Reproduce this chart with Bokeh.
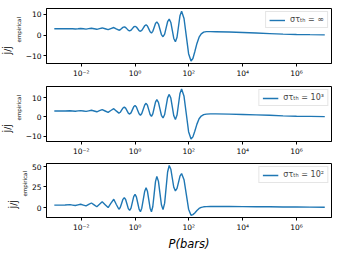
from bokeh.plotting import figure
from bokeh.models import (Range1d, FixedTicker, CustomJSTickFormatter, Title,
                          Legend, LegendItem)
from bokeh.layouts import column
from bokeh.embed import file_html
from bokeh.resources import INLINE

# ---- data (log10 of P, and the three curves) ----
logP = [-3.0, -2.8, -2.6, -2.42, -2.32, -2.22, -2.12, -2.02, -1.92, -1.82,
        -1.72, -1.62, -1.52, -1.42, -1.32, -1.22, -1.11, -1.0, -0.9, -0.79,
        -0.7, -0.6, -0.55, -0.5, -0.45, -0.4, -0.35, -0.3, -0.25, -0.2,
        -0.15, -0.1, -0.05, 0.0, 0.05, 0.1, 0.15, 0.2, 0.25, 0.305,
        0.36, 0.41, 0.46, 0.51, 0.56, 0.61, 0.66, 0.71, 0.76, 0.81,
        0.87, 0.925, 0.98, 1.04, 1.10, 1.155, 1.21, 1.27, 1.33, 1.385,
        1.44, 1.5, 1.56, 1.615, 1.67, 1.73, 1.82, 1.905, 1.99, 2.08,
        2.15, 2.22, 2.3, 2.38, 2.46, 2.55, 2.65, 2.8, 3.0, 3.5,
        4.0, 4.5, 5.0, 5.5, 6.0, 6.5, 7.05]

y_inf = [3.0, 3.0, 3.0, 3.08, 3.0, 2.92, 3.03, 3.15, 3.0, 2.85,
         3.05, 3.25, 3.0, 2.75, 3.08, 3.4, 3.0, 2.6, 3.1, 3.6,
         2.95, 2.3, 2.53, 3.1, 3.67, 3.9, 3.62, 2.95, 2.28, 2.0,
         2.32, 3.1, 3.88, 4.2, 3.85, 3.0, 2.15, 1.8, 2.25, 3.35,
         4.45, 4.9, 4.33, 2.95, 1.57, 1.0, 1.78, 3.65, 5.52, 6.3,
         5.26, 2.75, 0.24, -0.8, 0.43, 3.4, 6.37, 7.6, 6.02, 2.2,
         -1.62, -3.2, -1.06, 4.1, 9.26, 11.4, 7.91, -0.5, -8.91, -12.4,
         -11.2, -8.0, -4.0, -1.0, 0.6, 1.4, 1.65, 1.65, 1.6, 1.45,
         1.2, 0.95, 0.7, 0.45, 0.3, 0.2, 0.1]

y_1e3 = [3.0, 3.0, 3.0, 3.1, 3.0, 2.9, 3.05, 3.2, 3.0, 2.8,
         3.1, 3.4, 3.0, 2.6, 3.15, 3.7, 3.0, 2.3, 3.25, 4.2,
         3.05, 1.9, 2.35, 3.45, 4.55, 5.0, 4.47, 3.2, 1.93, 1.4,
         2.04, 3.6, 5.16, 5.8, 5.07, 3.3, 1.53, 0.8, 1.71, 3.9,
         6.09, 7.0, 6.0, 3.6, 1.2, 0.2, 1.47, 4.55, 7.63, 8.9,
         7.51, 4.15, 0.79, -0.6, 1.19, 5.5, 9.81, 11.6, 9.7, 5.1,
         0.5, -1.4, 0.91, 6.5, 12.09, 14.4, 10.61, 1.45, -7.71, -11.5,
         -10.4, -7.5, -3.8, -1.0, 0.4, 1.1, 1.4, 1.5, 1.5, 1.4,
         1.2, 1.0, 0.8, 0.5, 0.3, 0.2, 0.1]

y_1e2 = [3.0, 3.0, 3.1, 3.5, 3.0, 2.5, 3.25, 4.0, 3.0, 2.0,
         3.75, 5.5, 3.25, 1.0, 4.0, 7.0, 3.5, 0.0, 5.0, 10.0,
         4.0, -2.0, 0.05, 5.0, 9.95, 12.0, 9.73, 4.25, -1.23, -3.5,
         -0.64, 6.25, 13.14, 16.0, 12.92, 5.5, -1.92, -5.0, -0.75, 9.5,
         19.75, 24.0, 19.75, 9.5, -0.75, -5.0, 1.23, 16.25, 31.27, 37.5,
         31.64, 17.5, 3.36, -2.5, 5.31, 24.15, 42.99, 50.8, 46.29, 35.4,
         24.51, 20.0, 23.08, 30.5, 37.92, 41.0, 33.63, 15.85, -1.93, -9.3,
         -8.5, -6.5, -3.5, -1.0, 0.3, 0.9, 1.1, 1.2, 1.2, 1.2,
         1.1, 1.0, 0.9, 0.7, 0.6, 0.5, 0.4]

legend_labels = ["στₜₕ = ∞", "στₜₕ = 10³", "στₜₕ = 10²"]
x_ticks = [1e-2, 1e0, 1e2, 1e4, 1e6]
y_ticks = [[-10, 0, 10], [-10, 0, 10], [0, 25, 50]]
y_ranges = [(-13.6, 12.7), (-12.8, 15.7), (-12.0, 53.2)]
x_label = "P(bars)"
y_label_main = "J̇/J̇"
y_label_sub = "empirical"

P = [10 ** v for v in logP]

xfmt_code = """
const e = Math.round(Math.log10(tick));
const sup = {"-":"\\u207b","0":"\\u2070","1":"\\u00b9","2":"\\u00b2","3":"\\u00b3",
             "4":"\\u2074","5":"\\u2075","6":"\\u2076","7":"\\u2077","8":"\\u2078","9":"\\u2079"};
return "10" + String(e).split("").map(c => sup[c]).join("");
"""
yfmt_code = """
return tick < 0 ? "\\u2212" + Math.abs(tick) : String(tick);
"""

FONT = "DejaVu Sans"


def make_panel(ys, yr, yt, lab, height, top, bottom, xlabel=None):
    p = figure(width=340, height=height, x_axis_type="log",
               x_range=Range1d(10 ** -3.29, 10 ** 7.3), y_range=Range1d(*yr),
               output_backend="svg", toolbar_location=None,
               min_border_left=43, min_border_right=9,
               min_border_top=top, min_border_bottom=bottom)
    r = p.line(P, ys, line_color="#1f77b4", line_width=1.4)
    p.grid.visible = False
    p.outline_line_color = "black"
    p.outline_line_width = 1
    for ax in (p.xaxis[0], p.yaxis[0]):
        ax.axis_line_color = "black"
        ax.major_tick_line_color = "black"
        ax.major_tick_out = 3
        ax.major_tick_in = 0
        ax.minor_tick_line_color = None
        ax.major_label_text_font = FONT
        ax.major_label_text_font_size = "7.5px"
        ax.major_label_text_color = "black"
        ax.major_label_standoff = 2
    p.xaxis.ticker = FixedTicker(ticks=x_ticks, minor_ticks=[])
    p.xaxis.formatter = CustomJSTickFormatter(code=xfmt_code)
    p.yaxis.ticker = FixedTicker(ticks=yt, minor_ticks=[])
    p.yaxis.formatter = CustomJSTickFormatter(code=yfmt_code)
    if xlabel:
        p.xaxis.axis_label = xlabel
        p.xaxis.axis_label_text_font = FONT
        p.xaxis.axis_label_text_font_style = "italic"
        p.xaxis.axis_label_text_font_size = "11.5px"
        p.xaxis.axis_label_text_color = "black"
        p.xaxis.axis_label_standoff = 2
    legend = Legend(items=[LegendItem(label=lab, renderers=[r])],
                    location="top_right", margin=3, padding=3, spacing=0,
                    glyph_width=16, glyph_height=8, label_height=8,
                    label_standoff=5, label_text_font=FONT,
                    label_text_font_size="8px",
                    border_line_color="#cccccc", border_line_width=1,
                    background_fill_alpha=0.8)
    p.add_layout(legend)
    # rotated y label: J̇/J̇ with subscript "empirical"
    p.add_layout(Title(text=y_label_sub, align="left", offset=21, standoff=1,
                       text_font=FONT, text_font_size="5.5px",
                       text_font_style="normal", text_color="black"), "left")
    p.add_layout(Title(text=y_label_main, align="left", offset=9, standoff=1,
                       text_font=FONT, text_font_size="9px",
                       text_font_style="normal", text_color="black"), "left")
    return p


p1 = make_panel(y_inf, y_ranges[0], y_ticks[0], legend_labels[0], 85, 8, 22)
p2 = make_panel(y_1e3, y_ranges[1], y_ticks[1], legend_labels[1], 78, 1, 22)
p3 = make_panel(y_1e2, y_ranges[2], y_ticks[2], legend_labels[2], 90, 0, 36,
                xlabel=x_label)

layout = column(p1, p2, p3, spacing=0)
open("out.html", "w").write(file_html(layout, INLINE))
